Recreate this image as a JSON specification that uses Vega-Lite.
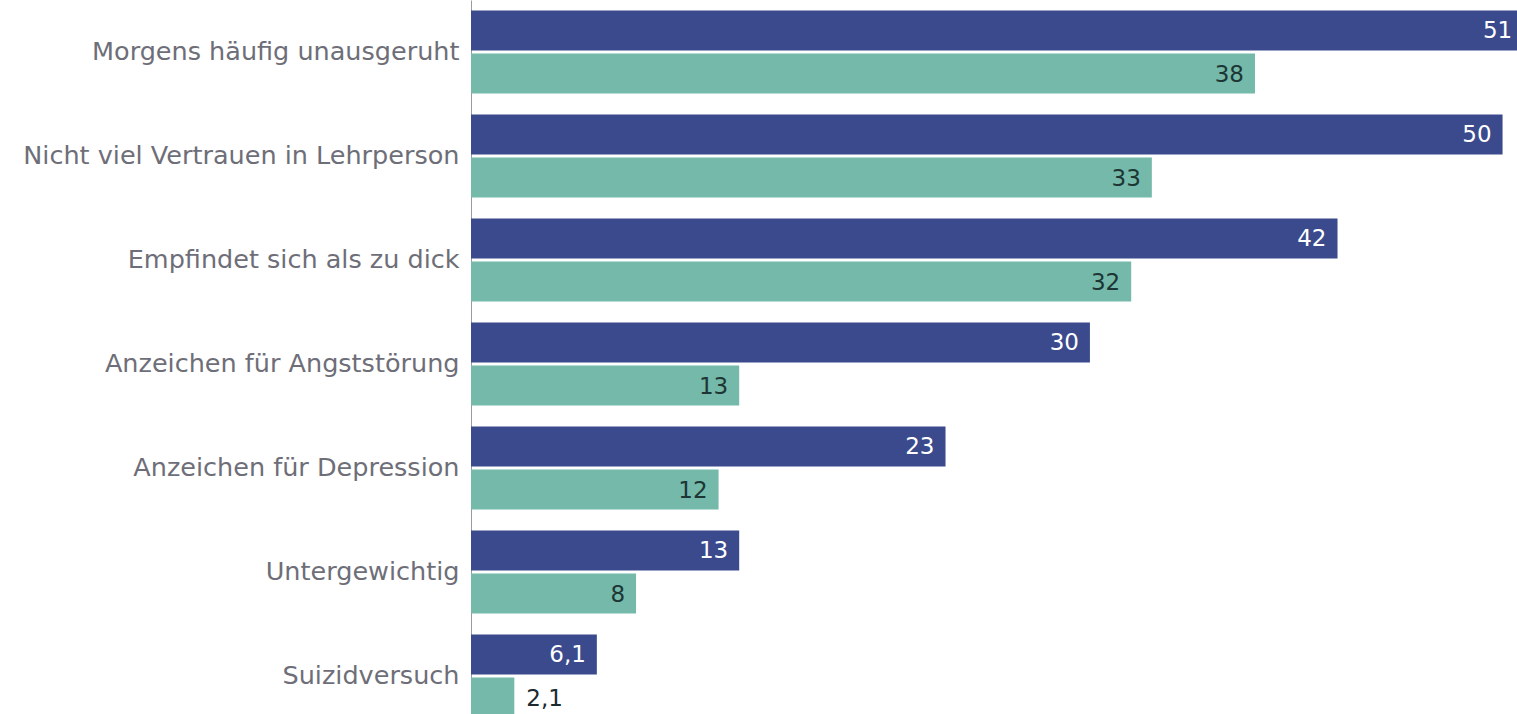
{
  "$schema": "https://vega.github.io/schema/vega-lite/v6.json",
  "width": 1046,
  "height": 714,
  "autosize": {"type": "none"},
  "padding": {"left": 471, "top": 0, "right": 0, "bottom": 0},
  "background": "white",
  "config": {
    "view": {"stroke": null},
    "locale": {"number": {"decimal": ",", "thousands": ".", "grouping": [3], "currency": ["", " €"]}},
    "font": "DejaVu Sans"
  },
  "data": {
    "values": [
      {"kategorie": "Morgens häufig unausgeruht", "gruppe": "Mädchen", "wert": 51},
      {"kategorie": "Morgens häufig unausgeruht", "gruppe": "Jungen", "wert": 38},
      {"kategorie": "Nicht viel Vertrauen in Lehrperson", "gruppe": "Mädchen", "wert": 50},
      {"kategorie": "Nicht viel Vertrauen in Lehrperson", "gruppe": "Jungen", "wert": 33},
      {"kategorie": "Empfindet sich als zu dick", "gruppe": "Mädchen", "wert": 42},
      {"kategorie": "Empfindet sich als zu dick", "gruppe": "Jungen", "wert": 32},
      {"kategorie": "Anzeichen für Angststörung", "gruppe": "Mädchen", "wert": 30},
      {"kategorie": "Anzeichen für Angststörung", "gruppe": "Jungen", "wert": 13},
      {"kategorie": "Anzeichen für Depression", "gruppe": "Mädchen", "wert": 23},
      {"kategorie": "Anzeichen für Depression", "gruppe": "Jungen", "wert": 12},
      {"kategorie": "Untergewichtig", "gruppe": "Mädchen", "wert": 13},
      {"kategorie": "Untergewichtig", "gruppe": "Jungen", "wert": 8},
      {"kategorie": "Suizidversuch", "gruppe": "Mädchen", "wert": 6.1},
      {"kategorie": "Suizidversuch", "gruppe": "Jungen", "wert": 2.1}
    ]
  },
  "encoding": {
    "y": {
      "field": "kategorie",
      "type": "nominal",
      "sort": null,
      "scale": {"range": [0, 728], "paddingInner": 0.2, "paddingOuter": 0.1},
      "axis": {
        "title": null,
        "ticks": false,
        "domain": true,
        "domainColor": "#9a9aa2",
        "domainWidth": 1,
        "labelFontSize": 25.5,
        "labelColor": "#6e6e78",
        "labelPadding": 12,
        "labelLimit": 480
      }
    },
    "yOffset": {
      "field": "gruppe",
      "type": "nominal",
      "sort": ["Mädchen", "Jungen"],
      "scale": {"paddingInner": 0.07}
    },
    "x": {
      "field": "wert",
      "type": "quantitative",
      "scale": {"domain": [0, 50.7], "nice": false},
      "axis": null
    }
  },
  "layer": [
    {
      "mark": {"type": "bar", "clip": true},
      "encoding": {
        "color": {
          "field": "gruppe",
          "type": "nominal",
          "scale": {"domain": ["Mädchen", "Jungen"], "range": ["#3b4a8c", "#74b9aa"]},
          "legend": null
        }
      }
    },
    {
      "transform": [{"filter": "datum.wert >= 3"}],
      "mark": {"type": "text", "align": "right", "baseline": "middle", "dx": -11, "dy": 1, "fontSize": 23},
      "encoding": {
        "text": {"field": "wert", "type": "quantitative", "format": "~r"},
        "color": {
          "condition": {"test": "datum.gruppe === 'Mädchen'", "value": "#ffffff"},
          "value": "#1d3634"
        }
      }
    },
    {
      "transform": [{"filter": "datum.wert < 3"}],
      "mark": {"type": "text", "align": "left", "baseline": "middle", "dx": 12, "dy": 1, "fontSize": 23, "color": "#1d2a30"},
      "encoding": {
        "text": {"field": "wert", "type": "quantitative", "format": "~r"}
      }
    }
  ]
}
